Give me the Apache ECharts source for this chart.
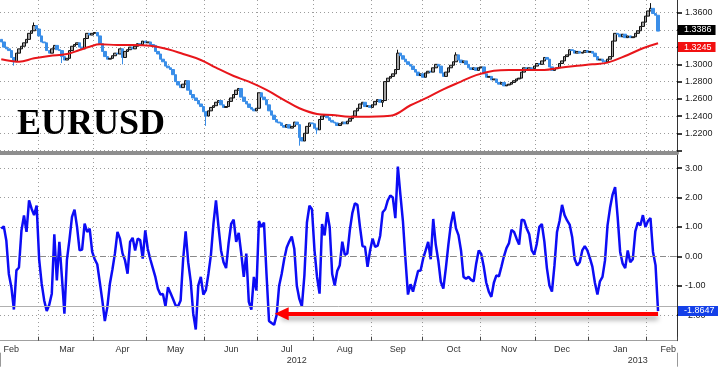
<!DOCTYPE html>
<html><head><meta charset="utf-8">
<script src="https://cdn.jsdelivr.net/npm/echarts@6/dist/echarts.min.js"></script>
<style>html,body{margin:0;padding:0;background:#fff;}#c{width:718px;height:368px;}</style>
</head><body><div id="c"></div>
<script>
// ---- categories: trading days ----
const startDate = '2012-02-09';
const endDate = '2013-02-18';
const dates = [];
for (let d = new Date(startDate + 'T00:00:00Z'); d <= new Date(endDate + 'T00:00:00Z'); d.setUTCDate(d.getUTCDate() + 1)) {
  const wd = d.getUTCDay();
  if (wd === 0 || wd === 6) continue;
  dates.push(d.toISOString().slice(0, 10));
}

// ---- EURUSD daily closes ----
const firstOpen = 1.329;
const closes = [
  1.326,1.320,1.318,1.316,1.308,1.303,1.313,1.318,1.321,1.325,
  1.329,1.336,1.339,1.345,1.341,1.333,1.326,1.325,1.316,1.313,
  1.318,1.322,1.317,1.316,1.309,1.305,1.307,1.316,1.321,1.323,
  1.325,1.320,1.318,1.330,1.336,1.334,1.336,1.337,1.333,1.324,
  1.315,1.309,1.306,1.307,1.310,1.313,1.312,1.318,1.308,1.315,
  1.317,1.320,1.318,1.321,1.324,1.323,1.327,1.325,1.326,1.323,
  1.322,1.315,1.312,1.306,1.303,1.298,1.296,1.294,1.288,1.280,
  1.276,1.273,1.277,1.281,1.270,1.265,1.261,1.258,1.254,1.251,
  1.245,1.240,1.246,1.250,1.252,1.256,1.258,1.253,1.250,1.251,
  1.257,1.261,1.265,1.270,1.272,1.262,1.257,1.254,1.250,1.248,
  1.246,1.249,1.267,1.262,1.259,1.253,1.246,1.241,1.236,1.233,
  1.232,1.229,1.227,1.230,1.226,1.228,1.233,1.230,1.215,1.211,
  1.220,1.228,1.232,1.231,1.226,1.224,1.236,1.240,1.241,1.238,
  1.235,1.233,1.232,1.229,1.231,1.233,1.231,1.234,1.237,1.240,
  1.246,1.249,1.254,1.256,1.251,1.252,1.250,1.253,1.257,1.259,
  1.256,1.258,1.280,1.284,1.286,1.289,1.294,1.313,1.310,1.306,
  1.303,1.300,1.298,1.294,1.291,1.287,1.289,1.285,1.290,1.292,
  1.291,1.296,1.300,1.298,1.290,1.286,1.291,1.296,1.299,1.303,
  1.311,1.305,1.302,1.304,1.300,1.296,1.294,1.296,1.293,1.296,
  1.297,1.289,1.285,1.286,1.282,1.283,1.279,1.277,1.279,1.275,
  1.276,1.277,1.279,1.281,1.283,1.284,1.291,1.296,1.294,1.296,
  1.295,1.298,1.301,1.300,1.304,1.308,1.306,1.297,1.293,1.295,
  1.296,1.301,1.304,1.309,1.311,1.317,1.316,1.313,1.315,1.313,
  1.314,1.316,1.314,1.315,1.313,1.309,1.305,1.306,1.304,1.303,
  1.306,1.309,1.327,1.336,1.335,1.332,1.335,1.331,1.333,1.331,
  1.332,1.336,1.339,1.344,1.349,1.356,1.362,1.365,1.359,1.357,
  1.3386
];
// notable wick extremes
const wickHighs = [['2012-02-28',1.3486],['2012-09-17',1.3170],['2012-10-18',1.3140],['2013-02-04',1.3711]];
const wickLows = [['2012-02-16',1.2985],['2012-03-14',1.3015],['2012-04-17',1.3000],['2012-06-01',1.2286],
                  ['2012-07-24',1.2056],['2012-08-02',1.2190],['2012-09-07',1.2505],['2013-01-08',1.3020]];

// ---- moving average (red) ----
const maDates = ['2012-02-09','2012-02-20','2012-02-28','2012-03-07','2012-03-16','2012-03-23','2012-03-29',
  '2012-04-04','2012-04-13','2012-04-23','2012-05-02','2012-05-11','2012-05-21','2012-05-30','2012-06-07',
  '2012-06-18','2012-06-26','2012-07-05','2012-07-16','2012-07-24','2012-08-02','2012-08-10','2012-08-21',
  '2012-08-27','2012-09-12','2012-09-24','2012-10-03','2012-10-11','2012-10-22','2012-10-30','2012-11-08',
  '2012-11-16','2012-11-27','2012-12-06','2012-12-14','2012-12-25','2013-01-02','2013-01-10','2013-01-22',
  '2013-01-30','2013-02-07'];
const maValues = [1.3059,1.3031,1.3070,1.3097,1.3120,1.3167,1.3205,
  1.3233,1.3225,1.3225,1.3217,1.3175,1.3120,1.3051,1.2961,
  1.2865,1.2799,1.2703,1.2586,1.2490,1.2424,1.2412,1.2393,
  1.2393,1.2404,1.2525,1.2620,1.2710,1.2800,1.2875,1.2925,
  1.2935,1.2935,1.2935,1.2961,1.2985,1.3001,1.3020,1.3109,
  1.3187,1.3245];

// ---- oscillator (blue) ----
const osc = [
  0.94,1.02,0.54,-0.60,-1.05,-1.81,-0.48,-0.38,0.88,1.39,
  0.83,1.90,1.62,1.40,1.73,-0.10,-0.93,-1.50,-1.86,-1.65,
  -1.27,0.75,-0.82,0.49,-0.70,-1.95,-0.11,0.57,1.34,1.59,
  1.00,0.20,0.23,1.11,0.83,0.94,0.15,-0.10,-0.27,-0.88,
  -1.50,-2.20,-1.72,-0.93,-0.45,0.10,0.83,0.60,0.10,-0.14,
  -0.59,0.49,0.63,0.20,0.60,0.55,-0.08,0.88,0.25,-0.10,
  -0.40,-0.70,-1.10,-1.30,-1.28,-1.70,-1.05,-1.25,-1.45,-1.67,
  -1.70,-1.50,-0.10,0.85,-0.20,-0.85,-1.95,-2.49,-0.99,-0.70,
  -1.30,-1.15,-0.60,0.05,1.11,1.90,1.00,0.20,-0.20,-0.40,
  0.45,1.10,1.25,0.49,0.80,0.10,-0.70,0.09,-1.55,-1.81,
  -0.70,-1.16,1.20,1.00,1.15,-0.60,-2.20,-2.27,-2.33,-2.00,
  -1.00,-0.60,-0.10,0.30,0.50,0.67,0.26,-1.00,-1.45,-1.70,
  -0.65,1.15,1.72,1.60,0.20,-0.70,-1.27,1.10,0.71,1.50,
  1.00,-0.60,-0.99,-0.50,-0.30,0.50,0.05,0.10,0.90,1.48,
  1.80,1.75,1.00,0.35,0.32,-0.36,0.20,0.60,0.32,0.36,
  0.70,1.50,1.60,1.90,2.07,2.00,1.30,3.05,2.10,1.20,
  -0.10,-1.30,-0.95,-1.20,-0.85,-0.50,-0.48,-0.08,0.20,0.49,
  -0.10,1.27,0.40,-0.14,-0.87,-1.10,-0.40,0.40,1.10,1.52,
  0.95,0.72,0.20,-0.70,-0.76,-0.70,-0.80,-0.85,-0.25,0.20,
  0.08,-0.35,-0.90,-1.20,-1.38,-0.90,-0.65,-0.68,-0.35,0.00,
  0.28,0.45,0.90,0.83,0.60,0.40,1.25,1.22,0.95,0.75,
  0.20,0.06,0.43,1.00,1.10,0.50,-0.40,-0.99,-1.20,-0.30,
  0.83,1.20,1.75,1.40,1.22,1.08,0.66,-0.10,-0.31,-0.20,
  0.20,0.35,0.20,-0.05,-0.35,-0.90,-1.30,-0.85,-0.70,-0.14,
  1.05,1.65,2.10,2.35,1.34,0.15,-0.25,-0.40,0.20,-0.20,
  -0.10,0.85,1.15,1.05,1.40,1.00,1.20,1.30,0.15,-0.30,
  -1.8647
];
const oscRefLevel = -1.70;
const arrowDates = ['2012-07-13', '2013-02-07'];
const arrowLevel = -1.95;

// ---- axis tick labels ----
const monthLabelDates = ['2012-02-15','2012-03-16','2012-04-17','2012-05-16','2012-06-15','2012-07-17',
  '2012-08-17','2012-09-17','2012-10-17','2012-11-16','2012-12-17','2013-01-17','2013-02-13'];
const monthLabels = ['Feb','Mar','Apr','May','Jun','Jul','Aug','Sep','Oct','Nov','Dec','Jan','Feb'];
const yearLabelDates = ['2012-07-23','2013-01-28'];
const yearLabels = ['2012','2013'];
const yearBreakDate = '2013-01-01';
const priceTicks = [1.20,1.22,1.24,1.26,1.28,1.30,1.32,1.34,1.36];
const priceLabels = [1.22,1.24,1.26,1.28,1.30,1.32,1.34,1.36];
const oscTicks = [-2,-1,0,1,2,3];

// ---- build ----
const monthStart = new Set();
for (let i = 1; i < dates.length; i++) if (dates[i].slice(0,7) !== dates[i-1].slice(0,7)) monthStart.add(i);
const monthLabelMap = {}; monthLabelDates.forEach((d, i) => monthLabelMap[d] = monthLabels[i]);
const yearLabelMap = {}; yearLabelDates.forEach((d, i) => yearLabelMap[d] = yearLabels[i]);
const hiMap = {}; wickHighs.forEach(w => hiMap[w[0]] = w[1]);
const loMap = {}; wickLows.forEach(w => loMap[w[0]] = w[1]);
const candles = closes.map((c, i) => {
  const o = i ? closes[i-1] : firstOpen;
  let lo = Math.min(o, c), hi = Math.max(o, c);
  if (hiMap[dates[i]] !== undefined) hi = Math.max(hi, hiMap[dates[i]]);
  if (loMap[dates[i]] !== undefined) lo = Math.min(lo, loMap[dates[i]]);
  return [o, c, lo, hi];
});
const maData = maDates.map((d, i) => [d, maValues[i]]);
const lastClose = closes[closes.length - 1];
const lastMa = maValues[maValues.length - 1];
const lastOsc = osc[osc.length - 1];

const FONT = 'Liberation Sans, Arial, sans-serif';
const dotted = { color: '#9c9c9c', type: [1, 3], width: 1 };

const chart = echarts.init(document.getElementById('c'), null, { renderer: 'canvas' });
chart.setOption({
  animation: false,
  backgroundColor: '#fff',
  title: {
    text: 'EURUSD', left: 17, top: 107, padding: 0,
    textStyle: { fontFamily: 'Liberation Serif, Times New Roman, serif', fontWeight: 'bold', fontSize: 36, color: '#000' }
  },
  grid: [
    { left: 0, right: 41, top: 0, height: 150.5, outerBoundsMode: 'none', containLabel: false },
    { left: 0, right: 41, top: 154, bottom: 27.3, outerBoundsMode: 'none', containLabel: false }
  ],
  xAxis: [
    { gridIndex: 0, type: 'category', data: dates, boundaryGap: true, offset: 2,
      axisLine: { show: true, onZero: false, lineStyle: { color: '#8e8e8e', width: 4 } },
      axisTick: { show: false }, axisLabel: { show: false },
      splitLine: { show: true, interval: (i) => monthStart.has(i), lineStyle: dotted } },
    { gridIndex: 1, type: 'category', data: dates, boundaryGap: true,
      axisLine: { show: true, onZero: false, lineStyle: { color: '#a0a0a0', width: 1 } },
      axisTick: { show: true, inside: true, length: 4, interval: (i) => monthStart.has(i), lineStyle: { color: '#444' } },
      axisLabel: { show: true, interval: (i, v) => monthLabelMap[v] !== undefined, formatter: (v) => monthLabelMap[v] || '',
        fontSize: 9, color: '#333', fontFamily: FONT, margin: 4 },
      splitLine: { show: true, interval: (i) => monthStart.has(i), lineStyle: dotted } },
    { gridIndex: 1, type: 'category', data: dates, boundaryGap: true, position: 'bottom', offset: 12,
      axisLine: { show: true, onZero: false, lineStyle: { color: 'rgba(0,0,0,0)' } },
      axisTick: { show: true, length: 14, interval: (i, v) => v === yearBreakDate, lineStyle: { color: '#999', width: 1 } },
      axisLabel: { show: true, interval: (i, v) => yearLabelMap[v] !== undefined, formatter: (v) => yearLabelMap[v] || '',
        fontSize: 9, color: '#333', fontFamily: FONT, margin: 3 },
      splitLine: { show: false } }
  ],
  yAxis: [
    { gridIndex: 0, type: 'value', position: 'right', min: 1.20, max: 1.3747, scale: true,
      axisLine: { show: true, lineStyle: { color: '#333', width: 1 } },
      axisTick: { show: true, customValues: priceTicks, length: 5, lineStyle: { color: '#000', width: 1.5 } },
      axisLabel: { show: true, customValues: priceLabels, formatter: (v) => v.toFixed(4), fontSize: 9, color: '#222', fontFamily: FONT, margin: 8 },
      splitLine: { show: true, lineStyle: dotted } },
    { gridIndex: 1, type: 'value', position: 'right', min: -2.87, max: 3.48,
      axisLine: { show: true, lineStyle: { color: '#333', width: 1 } },
      axisTick: { show: true, customValues: oscTicks, length: 5, lineStyle: { color: '#000', width: 1.5 } },
      axisLabel: { show: true, customValues: oscTicks, formatter: (v) => v.toFixed(2), fontSize: 9, color: '#222', fontFamily: FONT, margin: 8 },
      splitLine: { show: true, lineStyle: dotted } }
  ],
  series: [
    { type: 'candlestick', name: 'EURUSD', xAxisIndex: 0, yAxisIndex: 0, data: candles, barWidth: 3,
      itemStyle: { color: '#a3a3a3', borderColor: '#111', color0: '#3a8ee8', borderColor0: '#3a8ee8', borderWidth: 1 },
      markLine: { silent: true, symbol: 'none', animation: false,
        data: [{ yAxis: lastClose, lineStyle: { color: 'transparent' },
          label: { show: true, position: 'end', distance: 1, formatter: lastClose.toFixed(4), backgroundColor: '#000',
            color: '#fff', fontSize: 9, fontFamily: FONT, padding: [1, 4, 0, 6] } }] } },
    { type: 'line', name: 'MA', xAxisIndex: 0, yAxisIndex: 0, data: maData, smooth: 0.4, showSymbol: false, z: 4,
      lineStyle: { color: '#e8161b', width: 2 },
      markLine: { silent: true, symbol: 'none', animation: false,
        data: [{ yAxis: lastMa, lineStyle: { color: 'transparent' },
          label: { show: true, position: 'end', distance: 1, formatter: lastMa.toFixed(4), backgroundColor: '#f21010',
            color: '#fff', fontSize: 9, fontFamily: FONT, padding: [1, 4, 0, 6] } }] } },
    { type: 'line', name: 'Osc', xAxisIndex: 1, yAxisIndex: 1, data: osc, showSymbol: false, z: 4,
      lineStyle: { color: '#0c0cf5', width: 2.5 },
      markLine: { silent: true, symbol: 'none', animation: false, label: { show: false },
        data: [
          { yAxis: 0, lineStyle: { color: '#8a8a8a', type: [6, 4], width: 1 } },
          { yAxis: oscRefLevel, lineStyle: { color: '#b0b0b0', type: 'solid', width: 1 } },
          { yAxis: lastOsc, lineStyle: { color: 'transparent' },
            label: { show: true, position: 'end', distance: 1, formatter: lastOsc.toFixed(4), backgroundColor: '#1440e8',
              color: '#fff', fontSize: 9, fontFamily: FONT, padding: [1, 4, 0, 6] } },
          [ { coord: [arrowDates[0], arrowLevel], symbol: 'triangle', symbolSize: [13, 14],
              lineStyle: { color: '#ff0000', width: 4, type: 'solid', shadowColor: 'rgba(0,0,0,0.35)', shadowBlur: 5, shadowOffsetY: 4 } },
            { coord: [arrowDates[1], arrowLevel], symbol: 'none' } ]
        ] } }
  ]
});
</script></body></html>
